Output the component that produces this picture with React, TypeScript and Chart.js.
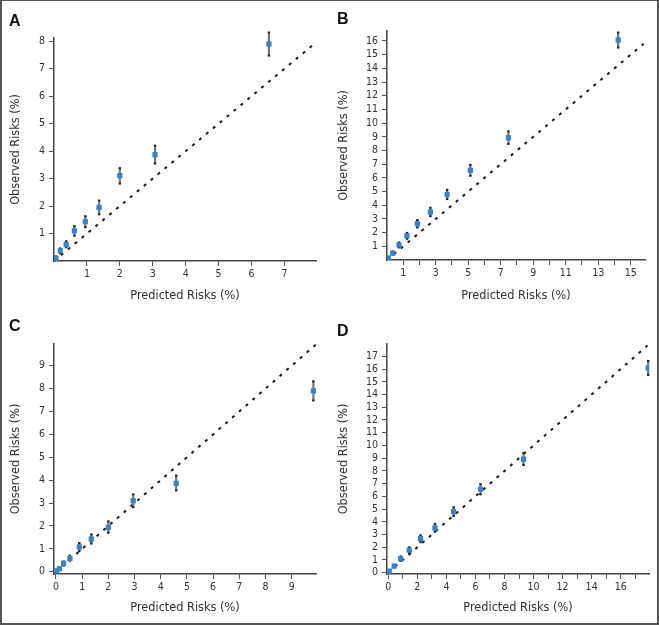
import React, { useEffect, useRef } from "react";
import { Chart, registerables } from "chart.js";
Chart.register(...registerables);

// Panel A
const predA = [0.02, 0.06, 0.19, 0.37, 0.62, 0.95, 1.37, 2.0, 3.07, 6.53];
const obsA = [0.05, 0.11, 0.37, 0.6, 1.1, 1.43, 1.95, 3.11, 3.87, 7.9];
const loA = [0.02, 0.07, 0.28, 0.5, 0.92, 1.23, 1.7, 2.82, 3.55, 7.48];
const hiA = [0.08, 0.16, 0.46, 0.72, 1.27, 1.63, 2.2, 3.38, 4.2, 8.32];
const xTicksA = [1, 2, 3, 4, 5, 6, 7];
const yTicksA = [1, 2, 3, 4, 5, 6, 7, 8];
const diagA = [0, 8];

// Panel B
const predB = [0.08, 0.35, 0.74, 1.23, 1.87, 2.67, 3.7, 5.13, 7.47, 14.23];
const obsB = [0.15, 0.5, 1.1, 1.77, 2.65, 3.5, 4.78, 6.55, 8.93, 16.07];
const loB = [0.08, 0.4, 0.92, 1.55, 2.38, 3.2, 4.45, 6.15, 8.48, 15.52];
const hiB = [0.22, 0.62, 1.28, 1.98, 2.92, 3.82, 5.12, 6.95, 9.4, 16.62];
const xTicksB = [1, 2, 3, 4, 5, 6, 7, 8, 9, 10, 11, 12, 13, 14, 15];
const yTicksB = [1, 2, 3, 4, 5, 6, 7, 8, 9, 10, 11, 12, 13, 14, 15, 16];
const diagB = [0, 15.8];

// Panel C
const predC = [0.03, 0.13, 0.29, 0.53, 0.89, 1.35, 2.0, 2.95, 4.59, 9.83];
const obsC = [0.04, 0.13, 0.36, 0.58, 1.08, 1.43, 1.94, 3.1, 3.86, 7.9];
const loC = [0.01, 0.08, 0.27, 0.48, 0.9, 1.23, 1.7, 2.82, 3.55, 7.48];
const hiC = [0.07, 0.18, 0.45, 0.7, 1.25, 1.63, 2.2, 3.38, 4.2, 8.32];
const xTicksC = [0, 1, 2, 3, 4, 5, 6, 7, 8, 9];
const yTicksC = [0, 1, 2, 3, 4, 5, 6, 7, 8, 9];
const diagC = [0, 9.95];

// Panel D
const predD = [0.07, 0.41, 0.85, 1.44, 2.22, 3.21, 4.5, 6.35, 9.31, 17.89];
const obsD = [0.13, 0.52, 1.1, 1.78, 2.68, 3.52, 4.8, 6.56, 8.92, 16.09];
const loD = [0.06, 0.42, 0.92, 1.56, 2.4, 3.22, 4.46, 6.16, 8.46, 15.54];
const hiD = [0.2, 0.62, 1.28, 2.0, 2.94, 3.84, 5.14, 6.96, 9.4, 16.64];
const xTicksD = [0, 1, 2, 3, 4, 5, 6, 7, 8, 9, 10, 11, 12, 13, 14, 15, 16, 17];
const yTicksD = [0, 1, 2, 3, 4, 5, 6, 7, 8, 9, 10, 11, 12, 13, 14, 15, 16, 17];
const diagD = [0, 17.85];

const FONT = "'DejaVu Sans Condensed', 'Liberation Sans Narrow', sans-serif";

type Cfg = {
  letter: string;
  px: number; py: number; w: number; h: number;
  left: number; right: number; top: number; bottom: number;
  xMin: number; xMax: number; yMin: number; yMax: number;
  pred: number[]; obs: number[]; lo: number[]; hi: number[];
  xTicks: number[]; yTicks: number[]; diag: number[];
  xLabel: (v: number) => string;
  xTitlePad: number; yTitlePad: number;
  lx: number; ly: number;
};

const all = (v: number) => String(v);

const panels: Cfg[] = [
  {
    letter: "A", px: 0, py: 0, w: 330, h: 310, left: 54, right: 316, top: 38, bottom: 261,
    xMin: 0, xMax: 7.96, yMin: 0, yMax: 8.12,
    pred: predA, obs: obsA, lo: loA, hi: hiA, xTicks: xTicksA, yTicks: yTicksA, diag: diagA,
    xLabel: all, xTitlePad: 7, yTitlePad: 8.5, lx: 9, ly: 13,
  },
  {
    letter: "B", px: 330, py: 0, w: 329, h: 310, left: 57, right: 315, top: 31, bottom: 260,
    xMin: 0, xMax: 15.88, yMin: 0, yMax: 16.73,
    pred: predB, obs: obsB, lo: loB, hi: hiB, xTicks: xTicksB, yTicks: yTicksB, diag: diagB,
    xLabel: (v) => (v % 2 === 1 ? String(v) : ""), xTitlePad: 7, yTitlePad: 5.8, lx: 337, ly: 11,
  },
  {
    letter: "C", px: 0, py: 310, w: 330, h: 315, left: 54, right: 316, top: 34, bottom: 264,
    xMin: -0.076, xMax: 9.93, yMin: -0.1, yMax: 9.95,
    pred: predC, obs: obsC, lo: loC, hi: hiC, xTicks: xTicksC, yTicks: yTicksC, diag: diagC,
    xLabel: all, xTitlePad: 9.3, yTitlePad: 8.2, lx: 9, ly: 318,
  },
  {
    letter: "D", px: 330, py: 310, w: 329, h: 315, left: 57, right: 319, top: 34, bottom: 264,
    xMin: -0.09, xMax: 17.95, yMin: -0.1, yMax: 17.97,
    pred: predD, obs: obsD, lo: loD, hi: hiD, xTicks: xTicksD, yTicks: yTicksD, diag: diagD,
    xLabel: (v) => (v % 2 === 0 ? String(v) : ""), xTitlePad: 9.3, yTitlePad: 5.8, lx: 337, ly: 323,
  },
];

function Panel({ cfg }: { cfg: Cfg }) {
  const ref = useRef<HTMLCanvasElement>(null);
  useEffect(() => {
    const errPlugin = {
      id: "errbars" + cfg.letter,
      beforeDatasetDraw(chart: any, args: any) {
        if (args.index !== 0) return;
        const ctx = chart.ctx;
        const xs = chart.scales.x;
        const ys = chart.scales.y;
        ctx.save();
        cfg.pred.forEach((p, i) => {
          const x = xs.getPixelForValue(p);
          const y1 = ys.getPixelForValue(cfg.lo[i]);
          const y2 = ys.getPixelForValue(cfg.hi[i]);
          ctx.strokeStyle = "#777";
          ctx.lineWidth = 2.2;
          ctx.beginPath();
          ctx.moveTo(x, y1);
          ctx.lineTo(x, y2);
          ctx.stroke();
          ctx.fillStyle = "#222";
          ctx.fillRect(x - 1.2, y2 - 1, 2.4, 2);
          ctx.fillRect(x - 1.2, y1 - 1, 2.4, 2);
        });
        ctx.restore();
      },
    };
    const tickFont = { family: FONT, size: 10.5 };
    const titleFont = { family: FONT, size: 12.6 };
    const chart = new Chart(ref.current as HTMLCanvasElement, {
      type: "scatter",
      data: {
        datasets: [
          {
            data: cfg.pred.map((x, i) => ({ x, y: cfg.obs[i] })),
            pointStyle: "rect",
            pointRadius: 3.7,
            backgroundColor: "#3f80c0",
            borderWidth: 0,
          } as any,
          {
            type: "line",
            data: cfg.diag.map((v) => ({ x: v, y: v })),
            borderColor: "#1a1a1a",
            borderWidth: 2,
            borderDash: [3, 6],
            pointRadius: 0,
            fill: false,
          } as any,
        ],
      },
      options: {
        responsive: false,
        animation: false,
        devicePixelRatio: 1,
        layout: { padding: { left: 0, top: cfg.top, right: cfg.w - cfg.right, bottom: 0 } },
        plugins: { legend: { display: false }, tooltip: { enabled: false } },
        scales: {
          x: {
            type: "linear",
            min: cfg.xMin,
            max: cfg.xMax,
            afterFit: (s: any) => { s.height = cfg.h - cfg.bottom; },
            afterBuildTicks: (s: any) => { s.ticks = cfg.xTicks.map((v) => ({ value: v })); },
            ticks: {
              autoSkip: false, maxRotation: 0, padding: 2, color: "#333", font: tickFont,
              callback: (v: any) => cfg.xLabel(Number(v)),
            },
            grid: { drawOnChartArea: false, drawTicks: true, tickLength: 5, color: "#555", lineWidth: 1 },
            border: { display: true, color: "#444", width: 1.5 },
            title: {
              display: true, text: "Predicted Risks (%)", font: titleFont, color: "#333",
              padding: { top: 0, bottom: cfg.xTitlePad },
            },
          },
          y: {
            type: "linear",
            min: cfg.yMin,
            max: cfg.yMax,
            afterFit: (s: any) => { s.width = cfg.left; },
            afterBuildTicks: (s: any) => { s.ticks = cfg.yTicks.map((v) => ({ value: v })); },
            ticks: {
              autoSkip: false, padding: 4, color: "#333", font: tickFont,
              callback: (v: any) => String(v),
            },
            grid: { drawOnChartArea: false, drawTicks: true, tickLength: 5, color: "#555", lineWidth: 1 },
            border: { display: true, color: "#444", width: 1.5 },
            title: {
              display: true, text: "Observed Risks (%)", font: titleFont, color: "#333",
              padding: { top: cfg.yTitlePad, bottom: 0 },
            },
          },
        },
      } as any,
      plugins: [errPlugin],
    });
    return () => chart.destroy();
  }, []);
  return (
    <>
      <div style={{ position: "absolute", left: cfg.px, top: cfg.py, width: cfg.w, height: cfg.h }}>
        <canvas ref={ref} width={cfg.w} height={cfg.h} style={{ display: "block", width: cfg.w, height: cfg.h }} />
      </div>
      <div
        style={{
          position: "absolute", left: cfg.lx, top: cfg.ly, fontFamily: "'Liberation Sans', Arial, sans-serif",
          fontWeight: "bold", fontSize: 16, lineHeight: "16px", color: "#111",
        }}
      >
        {cfg.letter}
      </div>
    </>
  );
}

export default function App() {
  return (
    <div style={{ position: "absolute", left: 0, top: 0, width: 659, height: 625, background: "#fff", overflow: "hidden" }}>
      {panels.map((p) => (
        <Panel key={p.letter} cfg={p} />
      ))}
      <div
        style={{
          position: "absolute", left: 0, top: 0, width: 659, height: 625, boxSizing: "border-box",
          borderStyle: "solid", borderColor: "#555", borderWidth: "1px 2px 2px 2px", pointerEvents: "none",
        }}
      />
    </div>
  );
}
